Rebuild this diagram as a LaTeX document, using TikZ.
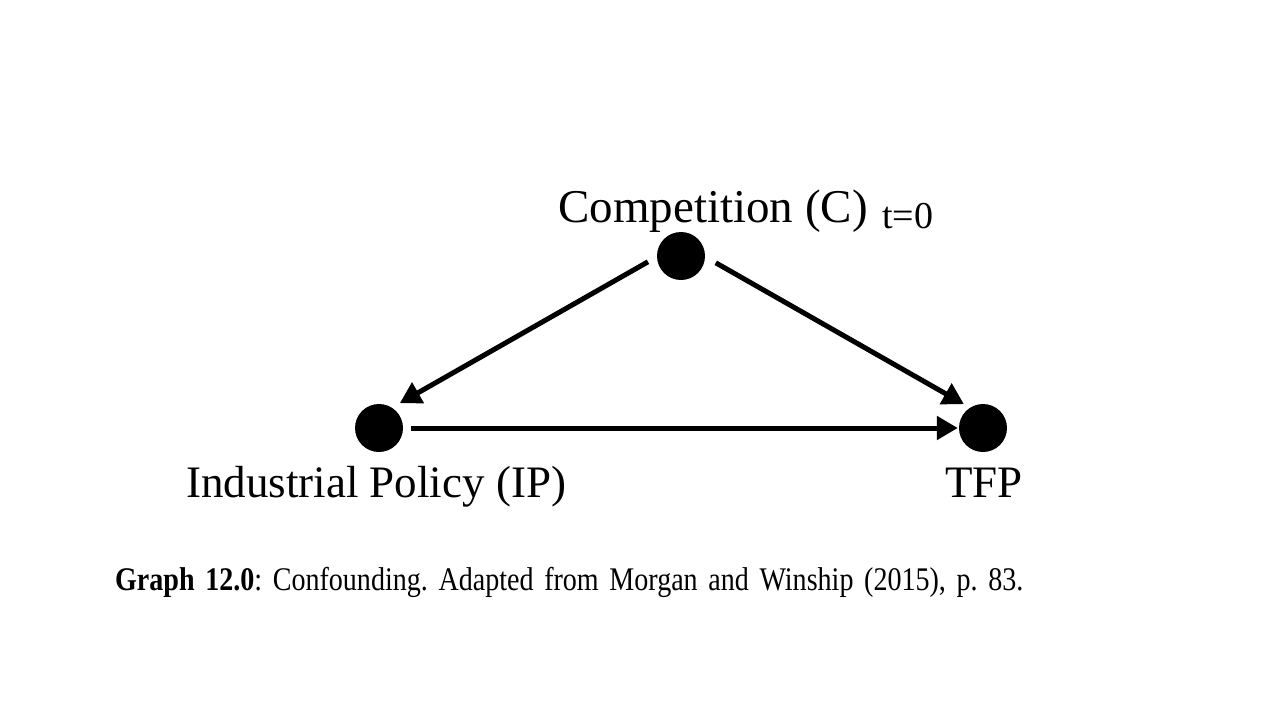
\documentclass[tikz,border=0pt]{standalone}
\usepackage{fontspec}
\setmainfont{Liberation Serif}
\usetikzlibrary{arrows.meta}
\newcommand\captionfont{\fontsize{33}{40}\selectfont\frenchspacing\spaceskip 0.38em\relax}

\begin{document}
\begin{tikzpicture}[x=1pt, y=-1pt,
  dot/.style={circle, fill=black, minimum size=48pt, inner sep=0pt},
  label/.style={anchor=base, inner sep=0pt, font=\fontsize{45}{54}\selectfont},
  causal/.style={line width=5pt, -{Triangle[length=21pt, width=23pt]}},
]
\useasboundingbox (0,0) rectangle (1280,720);
% nodes
\node[dot] (comp) at (681,256) {};
\node[dot] (ip) at (379,428) {};
\node[dot] (tfp) at (983,428) {};
% labels
\node[label, font=\fontsize{47}{56}\selectfont] (complab) at (713,222) {Competition (C)};
\node[anchor=base west, inner sep=0pt, font=\fontsize{38}{44}\selectfont] (tlab) at (882,228) {t=0};
\node[label] (iplab) at (376,497) {Industrial Policy (IP)};
\node[label] (tfplab) at (984,497) {TFP};
% arrows (the two slanted ones run a little above the centres)
\draw[causal, shorten <=38pt, shorten >=24pt]
  ([yshift=13pt]comp.center) -- ([yshift=13pt]ip.center);
\draw[causal, shorten <=40pt, shorten >=22pt]
  ([yshift=13pt]comp.center) -- ([yshift=13pt]tfp.center);
\draw[causal, shorten <=8pt, shorten >=1pt] (ip) -- (tfp);
% caption
\node[anchor=base west, inner sep=0pt, xscale=0.85, transform shape,
      font=\captionfont] (caption) at (115,590)
  {\textbf{Graph 12.0}: Confounding. Adapted from Morgan and Winship (2015), p. 83.};
\end{tikzpicture}
\end{document}
